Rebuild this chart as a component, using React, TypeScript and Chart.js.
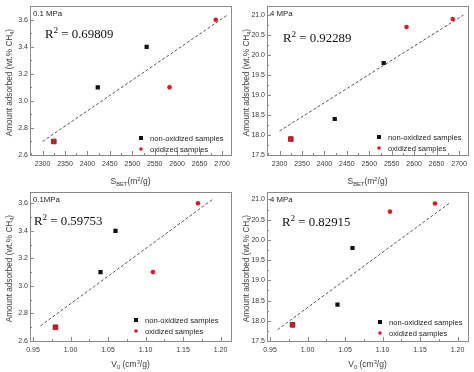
import React, { useEffect, useRef } from "react";
import { Chart, registerables } from "chart.js";

Chart.register(...registerables);

// ---------- data ----------
const sbetNonOx = [2423, 2532];
const sbetOx = [2583, 2686];
const sbetParent = [2325];
const v0NonOx = [1.04, 1.06];
const v0Ox = [1.11, 1.17];
const v0Parent = [0.98];

const lowNonOx = [3.1, 3.4];
const lowOx = [3.1, 3.6];
const lowParent = [2.7];
const highNonOx = [18.4, 19.8];
const highOx = [20.7, 20.9];
const highParent = [17.9];

const fitSbetX = [2300, 2710];
const fitSbetLowY = [2.7, 3.63];
const fitSbetHighY = [18.1, 21.0];
const fitV0X = [0.96, 1.19];
const fitV0LowY = [2.71, 3.63];
const fitV0HighY = [17.78, 20.92];

const sbetTicks = [2300, 2350, 2400, 2450, 2500, 2550, 2600, 2650, 2700];
const v0Ticks = [0.95, 1.0, 1.05, 1.1, 1.15, 1.2];
const lowTicks = [2.6, 2.8, 3.0, 3.2, 3.4, 3.6];
const highTicks = [17.5, 18.0, 18.5, 19.0, 19.5, 20.0, 20.5, 21.0];

const r2Values = ["0.69809", "0.92289", "0.59753", "0.82915"];
const panelLabels = ["0.1 MPa", "4 MPa", "0.1MPa", "4 MPa"];
const legendLabels = ["non-oxidized samples", "oxidized samples"];

// ---------- styling ----------
const SANS = '"Liberation Sans", Arial, sans-serif';
const SERIF = '"Liberation Serif", "Times New Roman", serif';
const RED = "#e3161d";
const BLACK = "#111111";
const FRAME = "#8a8a8a";
const TEXT = "#3a3a3a";

type Part = { t: string; s?: "sub" | "sup" };

function drawRich(ctx: CanvasRenderingContext2D, parts: Part[], x: number, y: number, size: number, family: string, align: "center" | "left", ratio = 0.68) {
  const widths = parts.map((p) => {
    const fs = p.s ? size * ratio : size;
    ctx.font = `${fs}px ${family}`;
    return ctx.measureText(p.t).width;
  });
  const total = widths.reduce((a, b) => a + b, 0);
  let cx = align === "center" ? x - total / 2 : x;
  ctx.textBaseline = "alphabetic";
  ctx.textAlign = "left";
  parts.forEach((p, i) => {
    const fs = p.s ? size * ratio : size;
    ctx.font = `${fs}px ${family}`;
    let dy = 0;
    if (p.s === "sub") dy = size * 0.25;
    if (p.s === "sup") dy = -size * 0.36;
    ctx.fillText(p.t, cx, y + dy);
    cx += widths[i];
  });
}

type PanelCfg = {
  xVals: number[][];
  yVals: number[][];
  fitX: number[];
  fitY: number[];
  xTicks: number[];
  yTicks: number[];
  xMin: number;
  xMax: number;
  yMin: number;
  yMax: number;
  xDec: number;
  xTitle: Part[];
  xTitleY: number;
  r2: string;
  r2X: number;
  r2Y: number;
  label: string;
  legX: number;
  legY: number;
};

const sbetTitle: Part[] = [{ t: "S" }, { t: "BET", s: "sub" }, { t: "(m" }, { t: "2", s: "sup" }, { t: "/g)" }];
const v0Title: Part[] = [{ t: "V" }, { t: "0", s: "sub" }, { t: " (cm" }, { t: "3", s: "sup" }, { t: "/g)" }];
const yTitle: Part[] = [{ t: "Amount adsorbed (wt.% CH" }, { t: "4", s: "sub" }, { t: ")" }];

const panels: PanelCfg[] = [
  {
    xVals: [sbetNonOx, sbetOx, sbetParent], yVals: [lowNonOx, lowOx, lowParent],
    fitX: fitSbetX, fitY: fitSbetLowY, xTicks: sbetTicks, yTicks: lowTicks,
    xMin: 2272, xMax: 2720, yMin: 2.6, yMax: 3.7, xDec: 0,
    xTitle: sbetTitle, xTitleY: 184, r2: r2Values[0], r2X: 45, r2Y: 38,
    label: panelLabels[0], legX: 141, legY: 138,
  },
  {
    xVals: [sbetNonOx, sbetOx, sbetParent], yVals: [highNonOx, highOx, highParent],
    fitX: fitSbetX, fitY: fitSbetHighY, xTicks: sbetTicks, yTicks: highTicks,
    xMin: 2272, xMax: 2720, yMin: 17.5, yMax: 21.22, xDec: 0,
    xTitle: sbetTitle, xTitleY: 184, r2: r2Values[1], r2X: 46, r2Y: 42,
    label: panelLabels[1], legX: 142, legY: 137,
  },
  {
    xVals: [v0NonOx, v0Ox, v0Parent], yVals: [lowNonOx, lowOx, lowParent],
    fitX: fitV0X, fitY: fitV0LowY, xTicks: v0Ticks, yTicks: lowTicks,
    xMin: 0.946, xMax: 1.214, yMin: 2.6, yMax: 3.68, xDec: 2,
    xTitle: v0Title, xTitleY: 181, r2: r2Values[2], r2X: 34, r2Y: 39,
    label: panelLabels[2], legX: 136, legY: 134,
  },
  {
    xVals: [v0NonOx, v0Ox, v0Parent], yVals: [highNonOx, highOx, highParent],
    fitX: fitV0X, fitY: fitV0HighY, xTicks: v0Ticks, yTicks: highTicks,
    xMin: 0.946, xMax: 1.214, yMin: 17.5, yMax: 21.18, xDec: 2,
    xTitle: v0Title, xTitleY: 181, r2: r2Values[3], r2X: 45, r2Y: 40,
    label: panelLabels[3], legX: 143, legY: 136,
  },
];

function pts(xs: number[], ys: number[]) {
  return xs.map((x, i) => ({ x, y: ys[i] }));
}

function Panel({ cfg }: { cfg: PanelCfg }) {
  const ref = useRef<HTMLCanvasElement | null>(null);
  useEffect(() => {
    if (!ref.current) return;
    const decoPlugin = {
      id: "deco",
      afterDraw(chart: any) {
        const ctx: CanvasRenderingContext2D = chart.ctx;
        const a = chart.chartArea;
        const xs = chart.scales.x;
        const ys = chart.scales.y;
        ctx.save();
        // frame
        ctx.strokeStyle = FRAME;
        ctx.lineWidth = 1;
        ctx.strokeRect(Math.round(a.left) + 0.5, Math.round(a.top) + 0.5, Math.round(a.right - a.left), Math.round(a.bottom - a.top));
        // inward ticks
        const drawTicksX = (vals: number[], len: number) => {
          vals.forEach((v) => {
            const px = Math.round(xs.getPixelForValue(v)) + 0.5;
            if (px < a.left || px > a.right) return;
            ctx.beginPath();
            ctx.moveTo(px, a.bottom);
            ctx.lineTo(px, a.bottom - len);
            ctx.stroke();
          });
        };
        const drawTicksY = (vals: number[], len: number) => {
          vals.forEach((v) => {
            const py = Math.round(ys.getPixelForValue(v)) + 0.5;
            if (py < a.top || py > a.bottom) return;
            ctx.beginPath();
            ctx.moveTo(a.left, py);
            ctx.lineTo(a.left + len, py);
            ctx.stroke();
          });
        };
        const mids = (t: number[]) => {
          const st = t[1] - t[0];
          const out: number[] = [];
          for (let i = -1; i < t.length; i++) out.push(t[0] + (i + 0.5) * st);
          return out;
        };
        drawTicksX(cfg.xTicks, 4);
        drawTicksX(mids(cfg.xTicks), 2);
        drawTicksY(cfg.yTicks, 4);
        drawTicksY(mids(cfg.yTicks), 2);

        // axis titles
        ctx.fillStyle = TEXT;
        drawRich(ctx, cfg.xTitle, (a.left + a.right) / 2, cfg.xTitleY, 8.5, SANS, "center");
        ctx.save();
        ctx.translate(12, (a.top + a.bottom) / 2 + 2);
        ctx.rotate(-Math.PI / 2);
        drawRich(ctx, yTitle, 0, 0, 8.2, SANS, "center");
        ctx.restore();

        // panel label
        ctx.fillStyle = "#222";
        ctx.font = `7.8px ${SANS}`;
        ctx.textAlign = "left";
        ctx.textBaseline = "alphabetic";
        ctx.fillText(cfg.label, a.left + 3, a.top + 10);

        // R2
        ctx.fillStyle = "#111";
        drawRich(ctx, [{ t: "R" }, { t: "2", s: "sup" }, { t: " = " + cfg.r2 }], cfg.r2X, cfg.r2Y, 12.8, SERIF, "left", 0.72);

        // legend
        const ds = chart.data.datasets;
        ctx.font = `7.6px ${SANS}`;
        ctx.textBaseline = "middle";
        ctx.fillStyle = BLACK;
        ctx.fillRect(cfg.legX - 2, cfg.legY - 2, 4, 4);
        ctx.fillStyle = RED;
        ctx.beginPath();
        ctx.arc(cfg.legX, cfg.legY + 11, 1.8, 0, Math.PI * 2);
        ctx.fill();
        ctx.fillStyle = "#222";
        ctx.fillText(ds[1].label, cfg.legX + 9, cfg.legY + 0.5);
        ctx.fillText(ds[2].label, cfg.legX + 9, cfg.legY + 11.5);
        ctx.restore();
      },
    };

    const tickFont = { size: 7, family: SANS };
    const chart = new Chart(ref.current, {
      type: "scatter",
      data: {
        datasets: [
          {
            type: "line",
            label: "fit",
            data: pts(cfg.fitX, cfg.fitY),
            borderColor: "#555",
            borderWidth: 1,
            borderDash: [3, 2],
            pointRadius: 0,
            fill: false,
            order: 5,
          } as any,
          {
            label: legendLabels[0],
            data: pts(cfg.xVals[0], cfg.yVals[0]),
            pointStyle: "rect",
            pointRadius: 3,
            backgroundColor: BLACK,
            borderColor: BLACK,
            borderWidth: 0,
            order: 1,
          },
          {
            label: legendLabels[1],
            data: pts(cfg.xVals[1], cfg.yVals[1]),
            pointStyle: "circle",
            pointRadius: 2.3,
            backgroundColor: RED,
            borderColor: RED,
            borderWidth: 0,
            order: 1,
          },
          {
            label: "parent",
            data: pts(cfg.xVals[2], cfg.yVals[2]),
            pointStyle: "rect",
            pointRadius: 3.3,
            backgroundColor: "#dc1820",
            borderColor: "#7a1414",
            borderWidth: 0.8,
            order: 0,
          },
        ],
      },
      options: {
        animation: false,
        responsive: false,
        events: [],
        layout: { padding: { left: 0, right: 6, top: 5, bottom: 0 } },
        plugins: { legend: { display: false }, tooltip: { enabled: false } },
        scales: {
          x: {
            type: "linear",
            min: cfg.xMin,
            max: cfg.xMax,
            afterBuildTicks: (s: any) => {
              s.ticks = cfg.xTicks.map((v) => ({ value: v }));
            },
            afterFit: (s: any) => {
              s.height = 31;
            },
            grid: { display: false, drawTicks: false },
            border: { display: false },
            ticks: {
              font: tickFont,
              color: TEXT,
              padding: 5,
              maxRotation: 0,
              autoSkip: false,
              callback: (v: any) => Number(v).toFixed(cfg.xDec),
            },
          },
          y: {
            type: "linear",
            min: cfg.yMin,
            max: cfg.yMax,
            afterBuildTicks: (s: any) => {
              s.ticks = cfg.yTicks.map((v) => ({ value: v }));
            },
            afterFit: (s: any) => {
              s.width = 30;
            },
            grid: { display: false, drawTicks: false },
            border: { display: false },
            ticks: {
              font: tickFont,
              color: TEXT,
              padding: 2,
              autoSkip: false,
              callback: (v: any) => Number(v).toFixed(1),
            },
          },
        },
      },
      plugins: [decoPlugin],
    });
    return () => chart.destroy();
  }, [cfg]);
  return <canvas ref={ref} width={237} height={186} style={{ display: "block", width: 237, height: 186 }} />;
}

export default function App() {
  return (
    <div style={{ position: "fixed", left: 0, top: 0, width: 474, height: 372, background: "#fff" }}>
      <div style={{ display: "grid", gridTemplateColumns: "237px 237px", gridTemplateRows: "186px 186px" }}>
        {panels.map((p, i) => (
          <Panel key={i} cfg={p} />
        ))}
      </div>
    </div>
  );
}
